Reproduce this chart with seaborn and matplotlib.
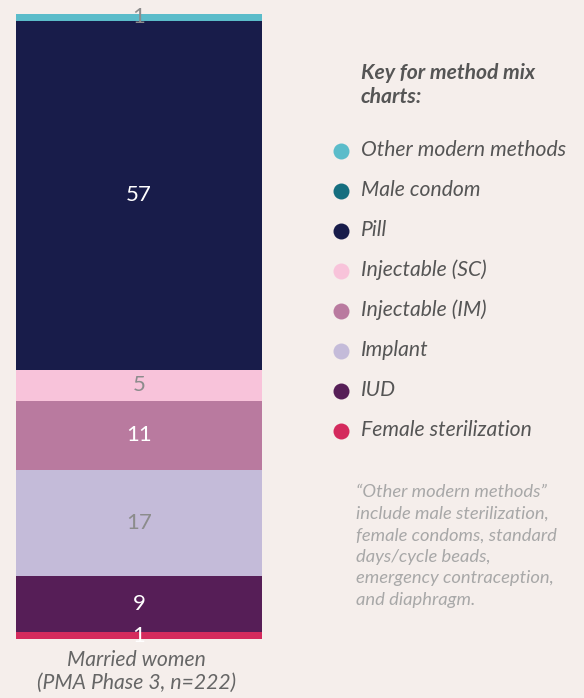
import matplotlib
matplotlib.use("Agg")
import matplotlib.pyplot as plt
import seaborn as sns
from matplotlib.lines import Line2D

# Data (bottom to top)
methods = ["Female sterilization", "IUD", "Implant", "Injectable (IM)",
           "Injectable (SC)", "Pill", "Male condom", "Other modern methods"]
values = [1.1, 9.1, 17.2, 11.2, 5.0, 56.6, 0, 1.1]
colors = ["#D42A5D", "#561E57", "#C4BBD9", "#B97A9F",
          "#F8C3DA", "#181C4A", "#156E7F", "#5BBCCA"]
label_colors = ["white", "white", "#8C8C8C", "white",
                "#8C8C8C", "white", "white", "#8C8C8C"]
category = ["Married women\n(PMA Phase 3, n=222)"]
key_title = "Key for method mix\ncharts:"
note = ("\u201cOther modern methods\u201d\ninclude male sterilization,\n"
        "female condoms, standard\ndays/cycle beads,\n"
        "emergency contraception,\nand diaphragm.")

BG = "#F5EEEB"
sns.set_theme(style="white")
plt.rcParams["font.family"] = ["Lato", "DejaVu Sans"]

W, H = 584, 698
fig = plt.figure(figsize=(W / 100, H / 100), dpi=100, facecolor=BG)
left, right = 16, 262
top, bottom = 14, 639
ax = fig.add_axes([left / W, (H - bottom) / H, (right - left) / W, (bottom - top) / H])
ax.set_facecolor(BG)

cum = 0
for m, v, c, lc in zip(methods, values, colors, label_colors):
    if v > 0:
        sns.barplot(x=[category[0]], y=[v], bottom=cum, color=c, width=1.0,
                    saturation=1, ax=ax, linewidth=0)
        ax.text(0, cum + v / 2, f"{int(v + 0.5)}", ha="center", va="center",
                fontsize=16, color=lc, fontweight="normal", zorder=10)
    cum += v

ax.set_xlim(-0.5, 0.5)
ax.set_ylim(0, sum(values))
for s in ax.spines.values():
    s.set_visible(False)
ax.set_yticks([])
ax.set_xticks([-0.01])
ax.set_xticklabels(category, fontsize=15.2, style="italic", color="#666666",
                   linespacing=1.2)
ax.tick_params(axis="x", length=0, pad=8)
ax.set_xlabel("")
ax.set_ylabel("")

# Key
fig.text(361 / W, 1 - 85 / H, key_title, fontsize=15.2, fontweight="bold",
         style="italic", color="#555555", va="center", ha="left", linespacing=1.2)
legend_order = ["Other modern methods", "Male condom", "Pill", "Injectable (SC)",
                "Injectable (IM)", "Implant", "IUD", "Female sterilization"]
for i, m in enumerate(legend_order):
    y = 150 + 40 * i
    c = colors[methods.index(m)]
    fig.add_artist(Line2D([341 / W], [1 - (y + 1) / H], marker="o", markersize=11.5,
                          color=c, markeredgewidth=0, linestyle="none",
                          transform=fig.transFigure))
    fig.text(361 / W, 1 - y / H, m, fontsize=15.2, style="italic", color="#555555",
             va="center", ha="left")

fig.text(356 / W, 1 - 546 / H, note, fontsize=13.2, style="italic", color="#A8A8A8",
         va="center", ha="left", linespacing=1.42)

fig.savefig("out.png", dpi=100, facecolor=BG)
